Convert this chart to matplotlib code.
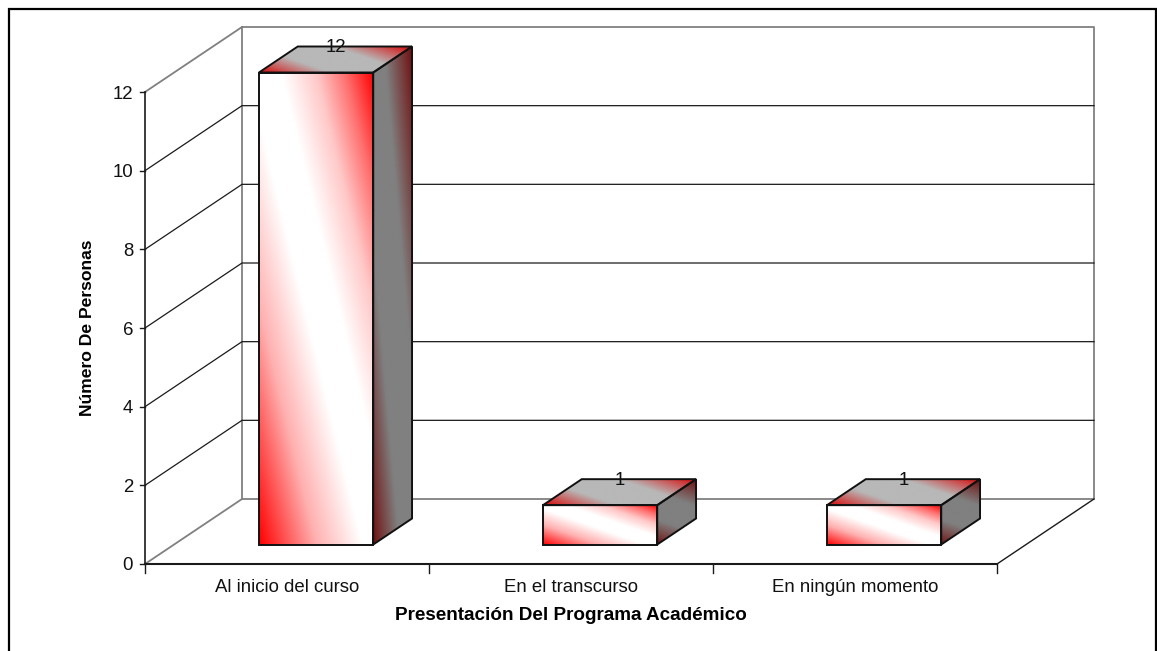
import numpy as np
import matplotlib
matplotlib.use("Agg")
import matplotlib.pyplot as plt
from matplotlib.colors import LinearSegmentedColormap
from matplotlib.lines import Line2D
from matplotlib.patches import Polygon
from matplotlib.transforms import Affine2D

categories = ["Al inicio del curso", "En el transcurso", "En ningún momento"]
values = [12, 1, 1]
y_ticks = [0, 2, 4, 6, 8, 10, 12]
x_title = "Presentación Del Programa Académico"
y_title = "Número De Personas"

W, H = 1157, 651
plt.rcParams["font.family"] = ["Liberation Sans", "DejaVu Sans"]
fig = plt.figure(figsize=(W / 100, H / 100), dpi=100, facecolor="white")

# Page-level frame: top and both sides, running off the bottom of the page
fx = [9 / W, 9 / W, 1156 / W, 1156 / W]
fy = [0, 1 - 9 / H, 1 - 9 / H, 0]
fig.add_artist(Line2D(fx, fy, transform=fig.transFigure, color="black", lw=1.6,
                      solid_joinstyle="miter"))

# Axes span the front plane of the 3D box: one x unit per category, y in persons
left, right, top, bottom = 145, 997, 92, 564
ax = fig.add_axes([left / W, 1 - bottom / H, (right - left) / W, (bottom - top) / H])
ax.set_xlim(0, len(categories))
ax.set_ylim(0, 12)
ax.axis("off")

# Oblique projection: how far one unit of depth shifts a point, in data units
px_x = len(categories) / (right - left)
px_y = 12 / (bottom - top)
DX, DY = 97 * px_x, 65 * px_y


def proj(x, y, d=0.0):
    return x + d * DX, y + d * DY


def line(pts, color, lw=1.0, z=1):
    xs, ys = zip(*pts)
    ax.plot(xs, ys, color=color, lw=lw, zorder=z, clip_on=False, solid_capstyle="projecting")


GRAY = "#808080"
DARK = "#1a1a1a"
n = len(categories)

# Back wall and left wall outlines
line([proj(0, 12), proj(0, 12, 1), proj(n, 12, 1), proj(n, 0, 1), proj(0, 0, 1), proj(0, 12, 1)], GRAY, 1.3)
line([proj(0, 0), proj(0, 0, 1)], GRAY, 1.3)
line([proj(n, 0), proj(n, 0, 1)], DARK, 1.0)

# Gridlines wrap from the y axis across the left wall and along the back wall
for v in y_ticks[1:-1]:
    line([proj(0, v), proj(0, v, 1), proj(n, v, 1)], DARK, 0.9)

# Axis lines and tick marks
line([proj(0, 0), proj(0, 12)], DARK, 1.2, 2)
line([proj(0, 0), proj(n, 0)], DARK, 1.5, 2)
for v in y_ticks:
    ax.plot([-5 * px_x, 0], [v, v], color=DARK, lw=1.0, clip_on=False)
    ax.text(-12 * px_x, v, str(v), ha="right", va="center_baseline", fontsize=13.4, color="#111111")
for i in range(n + 1):
    ax.plot([i, i], [0, -9 * px_y], color=DARK, lw=1.0, clip_on=False)
for i, c in enumerate(categories):
    ax.text(i + 0.5, -23.5 * px_y, c, ha="center", va="center", fontsize=13.4, color="#111111")

ax.text(1.5, -51 * px_y, x_title, ha="center", va="center", fontsize=13.6, fontweight="bold")
ax.text(-57.5 * px_x, 6, y_title, rotation=90, ha="center", va="center",
        fontsize=12.6, fontweight="bold")

# Diagonal two-way shading: value runs from one corner through the middle to the opposite corner
res = 256
u, v_grid = np.meshgrid(np.linspace(0, 1, res), np.linspace(0, 1, res))
shade = (u + v_grid) / 2

front_cmap = LinearSegmentedColormap.from_list("front", [
    (0, "#ff0000"), (0.25, "#ffb0b0"), (0.45, "#ffffff"), (0.6, "#ffffff"),
    (0.75, "#ffc8c8"), (0.875, "#ff7070"), (1, "#ff0000")])
top_cmap = LinearSegmentedColormap.from_list("top", [
    (0, "#d80808"), (0.32, "#b8b8b8"), (0.66, "#b8b8b8"), (1, "#d80808")])
side_cmap = LinearSegmentedColormap.from_list("side", [
    (0, "#701010"), (0.32, "#808080"), (0.66, "#808080"), (1, "#701010")])


def face(p0, p1, p3, cmap, z):
    """Paint a shaded parallelogram with corners p0, p1 (along u) and p3 (along v)."""
    mat = np.array([[p1[0] - p0[0], p3[0] - p0[0], p0[0]],
                    [p1[1] - p0[1], p3[1] - p0[1], p0[1]],
                    [0, 0, 1]])
    tr = Affine2D(mat) + ax.transData
    ax.imshow(shade, cmap=cmap, vmin=0, vmax=1, extent=(0, 1, 0, 1), origin="lower",
              transform=tr, zorder=z, clip_on=False, aspect="auto", interpolation="bilinear")


BAR_WIDTH = 0.4024
D0, D1 = 0.3, 0.7
for i, val in enumerate(values):
    x0, x1 = i + 0.5 - BAR_WIDTH / 2, i + 0.5 + BAR_WIDTH / 2
    z = 5 + i
    face(proj(x0, 0, D0), proj(x1, 0, D0), proj(x0, val, D0), front_cmap, z)
    face(proj(x1, 0, D0), proj(x1, 0, D1), proj(x1, val, D0), side_cmap, z)
    face(proj(x0, val, D0), proj(x1, val, D0), proj(x0, val, D1), top_cmap, z)
    for poly in (
        [proj(x0, 0, D0), proj(x1, 0, D0), proj(x1, val, D0), proj(x0, val, D0)],
        [proj(x1, 0, D0), proj(x1, 0, D1), proj(x1, val, D1), proj(x1, val, D0)],
        [proj(x0, val, D0), proj(x1, val, D0), proj(x1, val, D1), proj(x0, val, D1)],
    ):
        ax.add_patch(Polygon(poly, closed=True, fill=False, ec="#111111", lw=1.4,
                             zorder=z + 0.5, clip_on=False, joinstyle="miter"))
    # Value label sits over the back edge of the bar top, centred on its depth
    lx = proj(i + 0.5, val, 0.5)[0]
    ly = proj(i + 0.5, val, D1)[1] - 1 * px_y
    ax.text(lx, ly, str(val), ha="center", va="center", fontsize=13.4, color="#111111", zorder=20)

ax.set_xlim(0, n)
ax.set_ylim(0, 12)
fig.savefig("out.png", dpi=100, facecolor="white")
